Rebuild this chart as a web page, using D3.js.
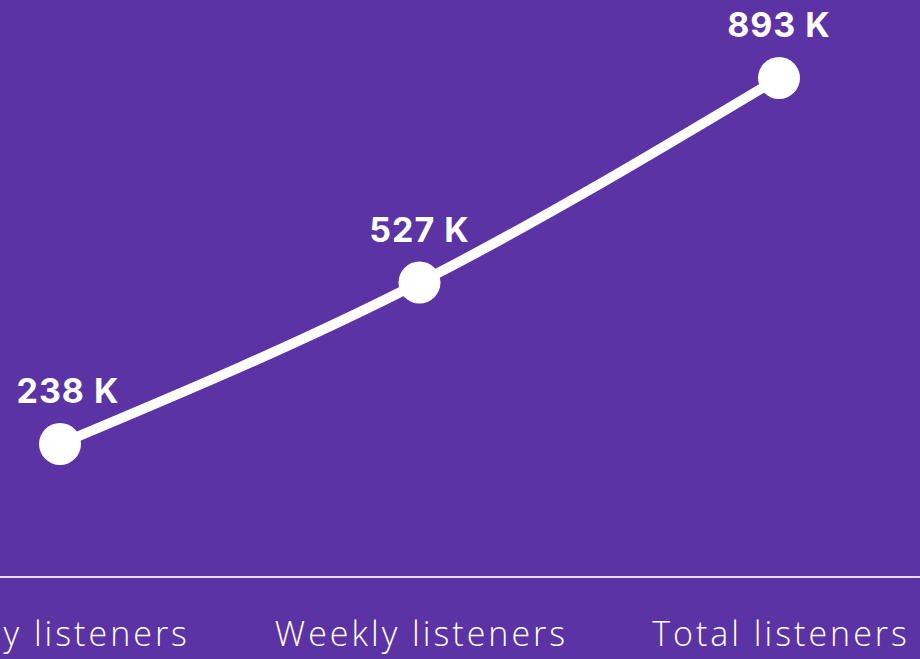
<!DOCTYPE html>
<html lang="en">
<head>
    <meta charset="UTF-8"/>
    <title>Listeners</title>
    <script src="https://d3js.org/d3.v7.min.js"></script>
    <style>
        html, body { margin: 0; padding: 0; background: #5b33a5; overflow: hidden; }
        svg { display: block; }
    </style>
</head>
<body>
    <script>
        var w = 920;
        var h = 659;

        var categories = ["Daily listeners", "Weekly listeners", "Total listeners"];
        var values = [238, 527, 893];
        var valueLabels = ["238 K", "527 K", "893 K"];

        var dataset = categories.map(function(c, i) {
            return { cat: c, value: values[i], label: valueLabels[i] };
        });

        var xScale = d3.scalePoint()
            .domain(categories)
            .range([60, 779]);

        var yScale = d3.scaleLinear()
            .domain([0, 893])
            .range([577, 78]);

        var svg = d3.select("body")
            .append("svg")
            .attr("width", w)
            .attr("height", h);

        svg.append("rect")
            .attr("width", w)
            .attr("height", h)
            .attr("fill", "#5b33a5");

        // baseline + category labels
        var xAxis = d3.axisBottom(xScale).tickSize(0).tickPadding(45);
        var gx = svg.append("g")
            .attr("transform", "translate(0," + yScale(0) + ")")
            .call(xAxis);
        gx.select(".domain")
            .attr("d", "M0,0H" + w)
            .attr("stroke", "#e6dcf5")
            .attr("stroke-width", 2);
        gx.selectAll("text")
            .attr("fill", "#ffffff")
            .attr("font-family", "'Open Sans', sans-serif")
            .attr("font-weight", 300)
            .attr("font-size", "34px")
            .attr("letter-spacing", "3px")
            .attr("dx", "1.5");

        var line = d3.line()
            .x(function(d) { return xScale(d.cat); })
            .y(function(d) { return yScale(d.value); })
            .curve(d3.curveMonotoneX);

        svg.append("path")
            .datum(dataset)
            .attr("d", line)
            .attr("fill", "none")
            .attr("stroke", "#ffffff")
            .attr("stroke-width", 10);

        svg.selectAll("circle")
            .data(dataset)
            .enter()
            .append("circle")
            .attr("cx", function(d) { return xScale(d.cat); })
            .attr("cy", function(d) { return yScale(d.value); })
            .attr("r", 21)
            .attr("fill", "#ffffff");

        svg.selectAll("text.val")
            .data(dataset)
            .enter()
            .append("text")
            .attr("class", "val")
            .text(function(d) { return d.label; })
            .attr("x", function(d, i) { return xScale(d.cat) + (i === 0 ? 8 : 0); })
            .attr("y", function(d) { return yScale(d.value) - 41; })
            .attr("text-anchor", "middle")
            .attr("fill", "#ffffff")
            .attr("font-family", "Inter, sans-serif")
            .attr("font-weight", 700)
            .attr("font-size", "34px")
            .attr("letter-spacing", "1px");
    </script>
</body>
</html>
